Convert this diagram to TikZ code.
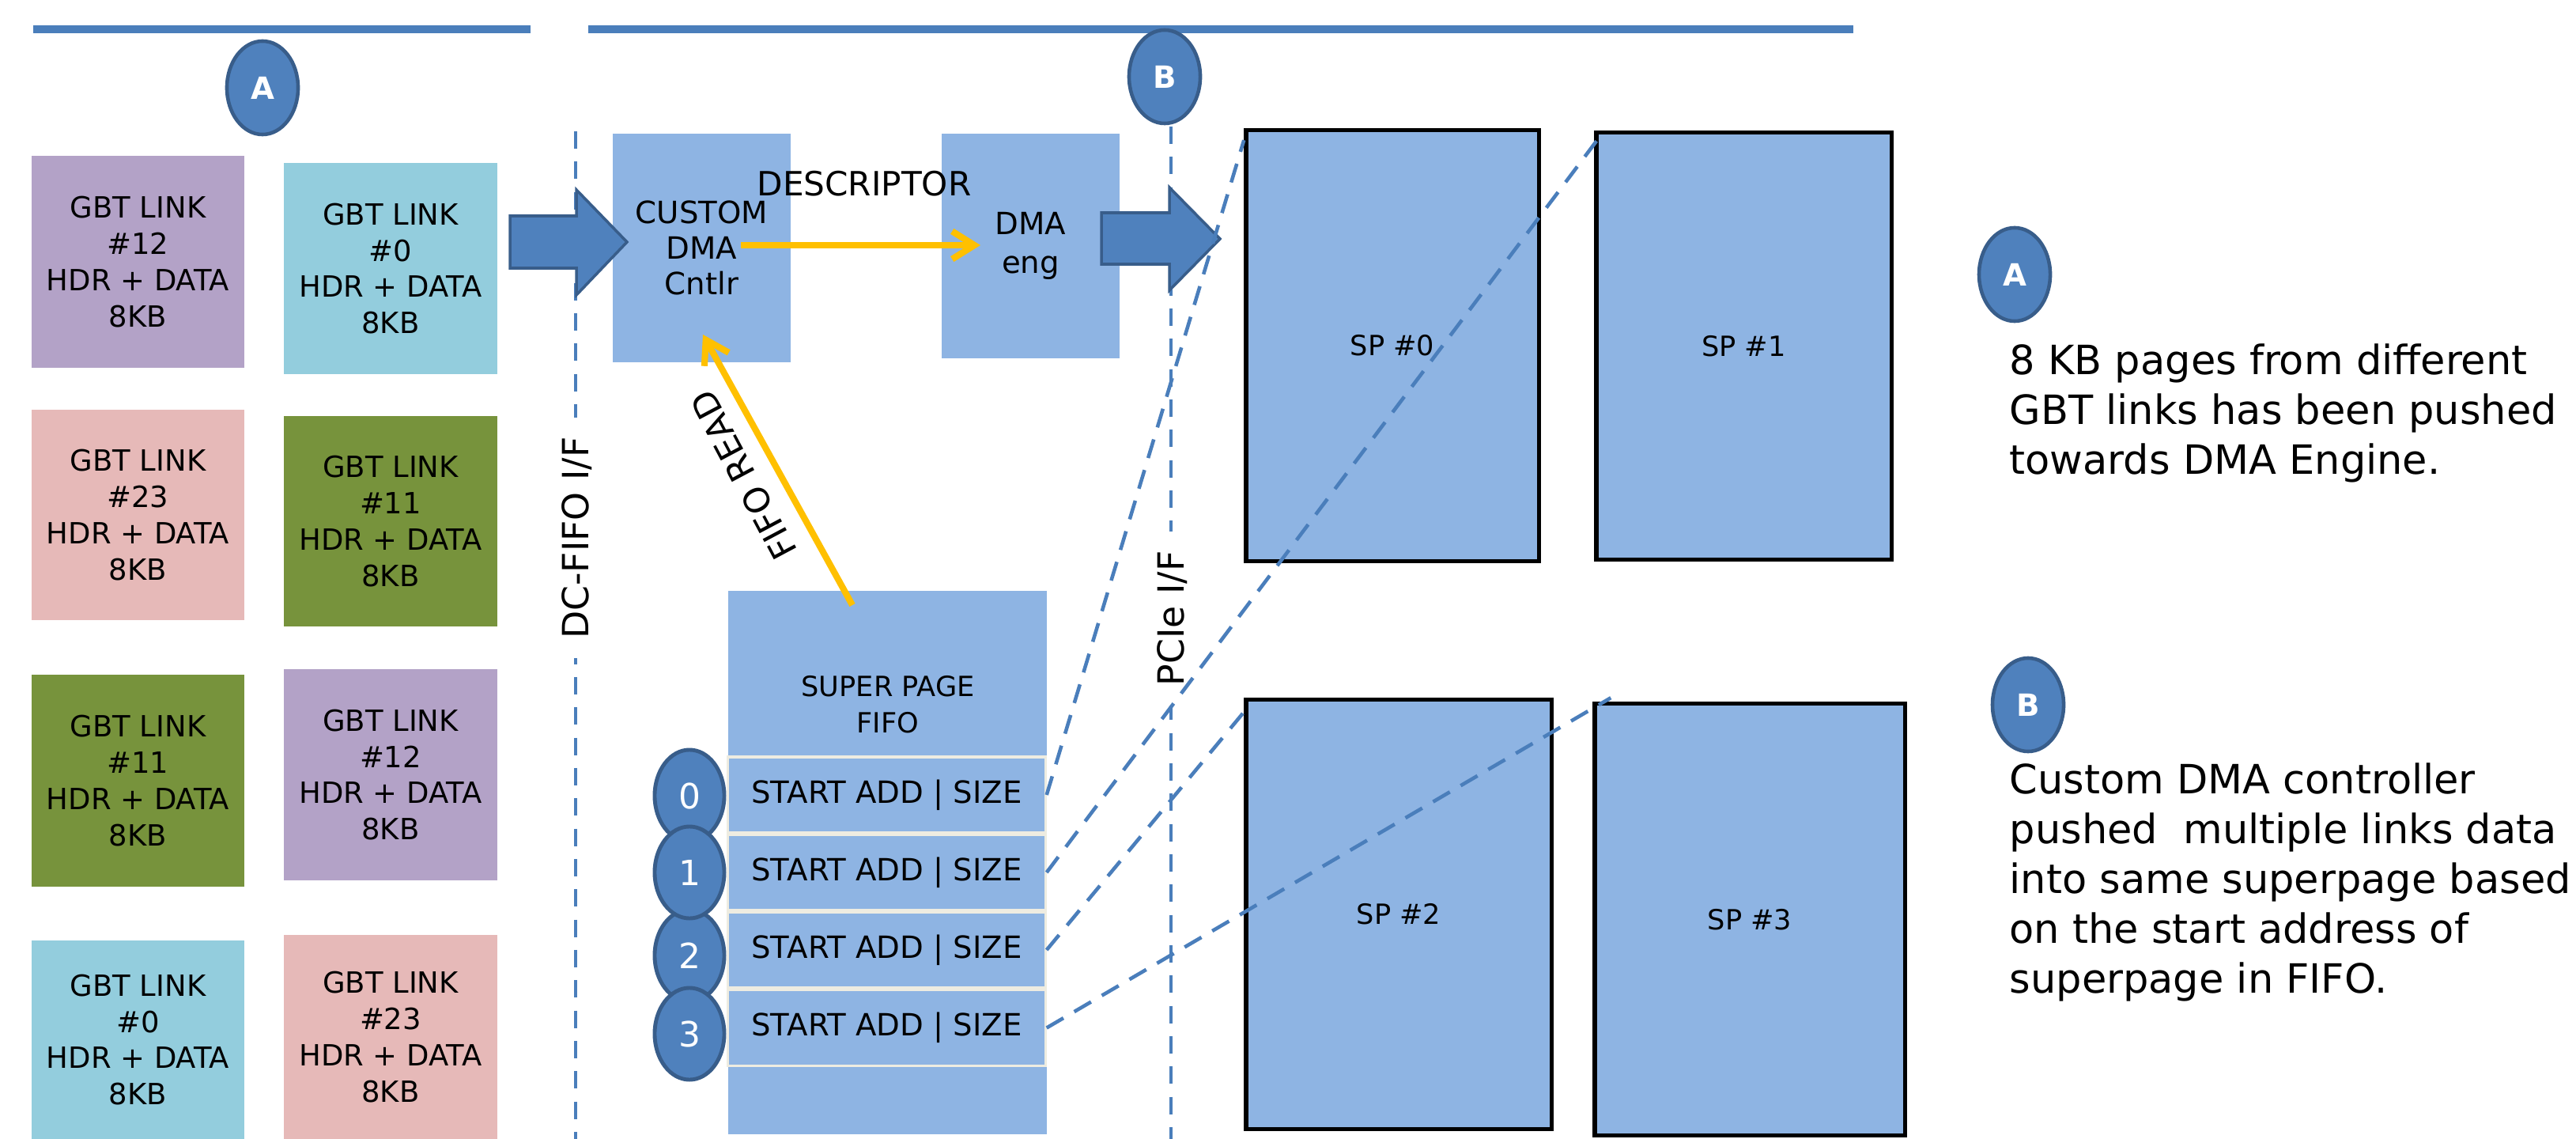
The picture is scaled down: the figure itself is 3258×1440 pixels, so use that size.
\documentclass[tikz,border=0pt]{standalone}
\usepackage{fontspec}
\setmainfont{DejaVu Sans}
\usetikzlibrary{shapes.geometric,arrows.meta,calc}
\definecolor{lineblue}{HTML}{4A7EBB}
\definecolor{ellfill}{HTML}{4F81BD}
\definecolor{elldraw}{HTML}{385D8A}
\definecolor{boxblue}{RGB}{142,180,227}
\definecolor{gbtpurple}{HTML}{B3A2C7}
\definecolor{gbtcyan}{HTML}{93CDDD}
\definecolor{gbtpink}{HTML}{E6B9B8}
\definecolor{gbtolive}{HTML}{77933C}
\definecolor{arrowyellow}{HTML}{FFC000}
\definecolor{rowborder}{HTML}{EEECE1}
\begin{document}
\begin{tikzpicture}[x=0.01cm,y=-0.01cm,
  sized/.style 2 args={minimum width=#1,minimum height=#2},
  topline/.style={draw=lineblue,line width=2.6pt},
  dashv/.style={draw=lineblue,line width=1.3pt,dash pattern=on 6.3pt off 4.6pt},
  dashd/.style={draw=lineblue,line width=1.3pt,dash pattern=on 7pt off 4.5pt},
  gbt/.style={inner sep=0pt,outer sep=0pt,align=center,font=\fontsize{10.5}{13}\selectfont},
  lbox/.style={fill=boxblue,inner sep=0pt,outer sep=0pt,align=center},
  rowbox/.style={fill=boxblue,draw=rowborder,line width=0.9pt,inner sep=0pt,align=center,font=\fontsize{11}{13}\selectfont,minimum width=4.01cm,minimum height=0.96cm},
  spbox/.style={fill=boxblue,draw=black,line width=1.5pt,inner sep=0pt,font=\fontsize{10}{12}\selectfont},
  bigell/.style={ellipse,fill=ellfill,draw=elldraw,line width=1.3pt,minimum width=0.9cm,minimum height=1.18cm,inner sep=0pt,text=white,font=\bfseries\fontsize{11}{13}\selectfont},
  numell/.style={ellipse,fill=ellfill,draw=elldraw,line width=1.4pt,minimum width=0.88cm,minimum height=1.16cm,inner sep=0pt,text=white,font=\fontsize{12.5}{14}\selectfont},
  barrow/.style={fill=ellfill,draw=elldraw,line width=1pt},
  yarrow/.style={draw=arrowyellow,line width=2.3pt,-{Straight Barb[length=8pt,width=10pt]}},
  vlabel/.style={fill=white,inner xsep=7pt,inner ysep=1pt,font=\fontsize{13}{15}\selectfont},
  desc/.style={align=left,inner sep=0pt,font=\fontsize{14.5}{17.9}\selectfont}
]
\useasboundingbox (0,0) rectangle (3258,1440);

% top lines
\coordinate (tlAa) at (42,37); \coordinate (tlAb) at (671,37);
\coordinate (tlBa) at (744,37); \coordinate (tlBb) at (2344,37);
\draw[topline] (tlAa) -- (tlAb);
\draw[topline] (tlBa) -- (tlBb);

% dashed interface lines
\coordinate (dcT) at (728,166); \coordinate (dcB) at (728,1440);
\coordinate (pcT) at (1481,160); \coordinate (pcB) at (1481,1440);
\draw[dashv] (dcT) -- (dcB);
\draw[dashv] (pcT) -- (pcB);
\node[vlabel,rotate=90] (dclbl) at (730,680) {DC-FIFO I/F};
\node[vlabel,rotate=90] (pclbl) at (1483,782) {PCIe I/F};

% GBT link pages
\node[gbt,fill=gbtpurple,sized={2.69cm}{2.68cm}] (g12a) at (174.5,331) {GBT LINK\\\#12\\HDR + DATA\\8KB};
\node[gbt,fill=gbtpink,sized={2.69cm}{2.66cm}] (g23a) at (174.5,651) {GBT LINK\\\#23\\HDR + DATA\\8KB};
\node[gbt,fill=gbtolive,sized={2.69cm}{2.68cm}] (g11a) at (174.5,987) {GBT LINK\\\#11\\HDR + DATA\\8KB};
\node[gbt,fill=gbtcyan,sized={2.69cm}{2.51cm}] (g0a) at (174.5,1314.5) {GBT LINK\\\#0\\HDR + DATA\\8KB};
\node[gbt,fill=gbtcyan,sized={2.70cm}{2.67cm}] (g0b) at (494,339.5) {GBT LINK\\\#0\\HDR + DATA\\8KB};
\node[gbt,fill=gbtolive,sized={2.70cm}{2.66cm}] (g11b) at (494,659) {GBT LINK\\\#11\\HDR + DATA\\8KB};
\node[gbt,fill=gbtpurple,sized={2.70cm}{2.67cm}] (g12b) at (494,979.5) {GBT LINK\\\#12\\HDR + DATA\\8KB};
\node[gbt,fill=gbtpink,sized={2.70cm}{2.58cm}] (g23b) at (494,1311) {GBT LINK\\\#23\\HDR + DATA\\8KB};

% DMA blocks
\node[lbox,font=\fontsize{11}{12.8}\selectfont,sized={2.25cm}{2.89cm}] (cdma) at (887.5,313.5) {CUSTOM\\DMA\\Cntlr};
\node[lbox,font=\fontsize{11}{14}\selectfont,sized={2.25cm}{2.84cm}] (deng) at (1303.5,311) {DMA\\eng};
\node[inner sep=0pt,font=\fontsize{12}{14}\selectfont] (desclbl) at (1093,232) {DESCRIPTOR};

% block arrows
\filldraw[barrow] (645,273) -- (729,273) -- (729,240) -- (793,306) -- (729,373) -- (729,339) -- (645,339) -- cycle;
\filldraw[barrow] (1393,269) -- (1479,269) -- (1479,237) -- (1543,302) -- (1479,367) -- (1479,334) -- (1393,334) -- cycle;

% super page FIFO
\node[lbox,sized={4.03cm}{6.87cm}] (fifo) at (1122.5,1090.5) {};
\node[align=center,inner sep=0pt,font=\fontsize{10}{13}\selectfont] (fifolbl) at (1123,891) {SUPER PAGE\\FIFO};
\node[rowbox] (row0) at (1121.5,1005) {START ADD | SIZE};
\node[rowbox] (row1) at (1121.5,1103) {START ADD | SIZE};
\node[rowbox] (row2) at (1121.5,1201) {START ADD | SIZE};
\node[rowbox] (row3) at (1121.5,1299.5) {START ADD | SIZE};
\node[numell] (n0) at (872,1006) {0};
\node[numell] (n2) at (872,1208) {2};
\node[numell] (n1) at (872,1103) {1};
\node[numell] (n3) at (872,1307) {3};

% yellow arrows
\coordinate (dS) at (937,310); \coordinate (dE) at (1240,310);
\draw[yarrow] (dS) -- (dE);
\coordinate (fS) at (1078,765); \coordinate (fE) at (889,423);
\draw[yarrow] (fS) -- (fE);
\node[rotate=118,inner sep=0pt,font=\fontsize{12.5}{14}\selectfont] (fifordlbl) at (940,601) {FIFO READ};

% super pages
\node[spbox,sized={3.70cm}{5.44cm}] (sp0) at (1761,437) {SP \#0};
\node[spbox,sized={3.73cm}{5.39cm}] (sp1) at (2205.5,437.5) {SP \#1};
\node[spbox,sized={3.86cm}{5.42cm}] (sp2) at (1769,1156) {SP \#2};
\node[spbox,sized={3.92cm}{5.45cm}] (sp3) at (2213,1162.5) {SP \#3};

% markers
\node[bigell] (markA) at (332,111) {A};
\node[bigell] (markB) at (1473,97) {B};
\node[bigell] (noteA) at (2548,347) {A};
\node[bigell] (noteB) at (2565,891) {B};

% notes
\node[desc,anchor=north west] (txtA) at (2541,434) {8 KB pages from different\\GBT links has been pushed\\towards DMA Engine.};
\node[desc,anchor=north west] (txtB) at (2541,964) {Custom DMA controller\\pushed\ \ multiple links data\\into same superpage based\\on the start address of\\superpage in FIFO.};

% mapping lines
\draw[dashd] (row0.east) -- ($(sp0.north west)+(0,15)$);
\draw[dashd] (row1.east) -- ($(sp1.north west)+(6,9)$);
\draw[dashd] (row2.east) -- ($(sp2.north west)+(0,18)$);
\draw[dashd] (row3.east) -- ($(sp3.north west)+(23,-5)$);
\end{tikzpicture}
\end{document}
